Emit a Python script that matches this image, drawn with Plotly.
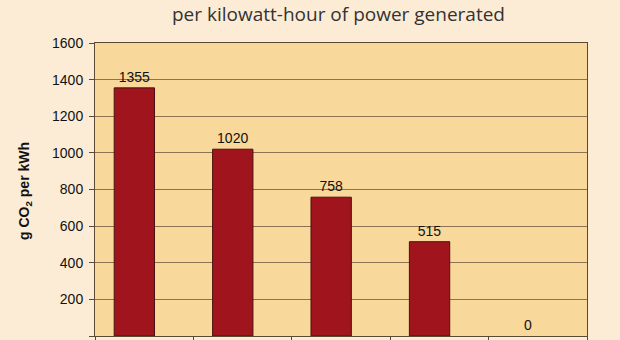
import plotly.graph_objects as go

categories = ["Lignite", "Hard coal", "Oil", "Natural gas", "Nuclear / renewables"]
values = [1355, 1020, 758, 515, 0]
y_ticks = [0, 200, 400, 600, 800, 1000, 1200, 1400, 1600]

W, H = 620, 340
L, R, T, B = 95, 33, 43, 4
pw, ph = W - L - R, H - T - B

fig = go.Figure()
fig.add_trace(go.Bar(
    x=categories, y=values,
    width=0.41, offset=-0.305,
    marker=dict(color="#A0141E",
                line=dict(color="#4a1010", width=[1 if v > 0 else 0 for v in values])),
    text=[str(v) for v in values], textposition="outside",
    textfont=dict(family="Liberation Sans, Arial", size=14, color="#111"),
    cliponaxis=False,
))

fig.update_layout(
    width=W, height=H,
    margin=dict(l=L, r=R, t=T, b=B, autoexpand=False),
    paper_bgcolor="#FCECD6",
    plot_bgcolor="#F9D89B",
    showlegend=False,
    xaxis=dict(type="category", tickson="boundaries", ticks="outside", ticklen=5,
               tickcolor="#5a4a35", showline=True, linecolor="#5a4a35", linewidth=1,
               mirror=True, showgrid=False, automargin=False, showticklabels=False),
    yaxis=dict(range=[0, 1600], tickvals=y_ticks, ticks="outside", ticklen=5,
               tickcolor="#5a4a35", showline=True, linecolor="#5a4a35", linewidth=1,
               mirror=True, showgrid=True, gridcolor="#8C7352", gridwidth=1,
               zeroline=False, automargin=False, ticklabelstandoff=3,
               tickfont=dict(family="Liberation Sans, Arial", size=14, color="#111")),
    bargap=0.2,
)

fig.add_annotation(
    text="per kilowatt-hour of power generated",
    xref="paper", yref="paper",
    x=(338 - L) / pw, y=(H - B - 14) / ph,
    xanchor="center", yanchor="middle", showarrow=False,
    font=dict(family="Open Sans", size=19, color="#333"),
)

fig.add_annotation(
    text="<b>g CO<sub>2</sub> per kWh</b>", textangle=-90,
    xref="paper", yref="paper",
    x=(25 - L) / pw, y=(H - B - 191) / ph,
    xanchor="center", yanchor="middle", showarrow=False,
    font=dict(family="Liberation Sans, Arial", size=14, color="#111"),
)

fig.write_html("out.html")
